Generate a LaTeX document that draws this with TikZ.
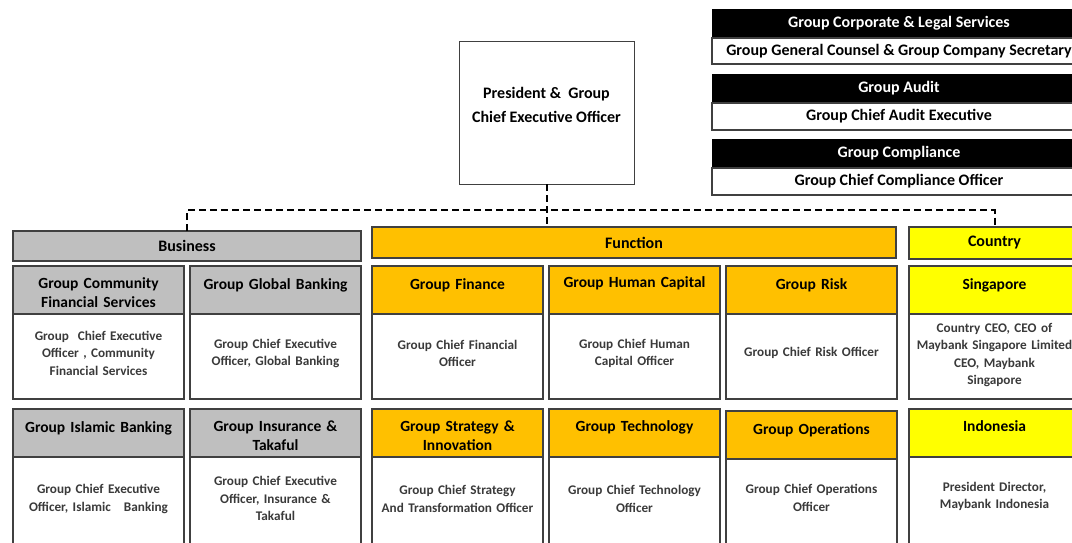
\documentclass[tikz,border=0pt]{standalone}
\usepackage{fontspec}
\setmainfont{Carlito}
\usepackage{xcolor}
\usepackage{tikz}
\usetikzlibrary{positioning}

\definecolor{bizgray}{HTML}{BFBFBF}
\definecolor{funorange}{HTML}{FFC000}
\definecolor{ctyyellow}{HTML}{FFFF00}
\definecolor{boxline}{HTML}{404040}
\definecolor{bodytext}{HTML}{3A3A3A}

\tikzset{
  unitbar/.style={draw=boxline, line width=1.3pt, anchor=north west, inner sep=0pt, outer sep=0pt,
    font=\bfseries\fontsize{16}{19}\selectfont},
  cardhead/.style={draw=boxline, line width=1.3pt, anchor=north west, minimum width=171pt,
    minimum height=48pt, text width=168pt, align=center, inner sep=0pt, outer sep=0pt,
    font=\bfseries\fontsize{15.5}{19}\selectfont},
  oneline/.style={text depth=12pt},
  twoline/.style={text height=16pt},
  cardbody/.style={draw=boxline, line width=1.3pt, fill=white, minimum width=171pt,
    text width=168pt, align=center, inner sep=0pt, outer sep=0pt, text=bodytext, text height=3pt,
    font=\bfseries\fontsize{13.2}{17.5}\selectfont},
  blackbar/.style={draw=black, fill=black, text=white, anchor=north west, minimum width=374pt,
    minimum height=29pt, inner sep=0pt, outer sep=0pt, font=\bfseries\fontsize{16}{19}\selectfont},
  whitebar/.style={draw=boxline, line width=1.3pt, fill=white, minimum width=374pt,
    inner sep=0pt, outer sep=0pt, font=\bfseries\fontsize{16}{19}\selectfont},
  reportline/.style={line width=2pt, dash pattern=on 7pt off 4pt}
}

\begin{document}
\begin{tikzpicture}[x=1pt, y=-1pt]
  \useasboundingbox (0,0) rectangle (1072,542);
  \clip (0,0) rectangle (1072,542);

  % Top right: independent functions
  \node[blackbar] (legal) at (712,9) {Group Corporate \& Legal Services};
  \node[whitebar, minimum height=26pt, below=0pt of legal] (legalhead) {Group General Counsel \& Group Company Secretary};
  \node[blackbar] (audit) at (712,74) {Group Audit};
  \node[whitebar, minimum height=27pt, below=0pt of audit] (audithead) {Group Chief Audit Executive};
  \node[blackbar] (compl) at (712,139) {Group Compliance};
  \node[whitebar, minimum height=27pt, below=0pt of compl] (complhead) {Group Chief Compliance Officer};

  % CEO box
  \node[draw=boxline, line width=1pt, anchor=north west, minimum width=175pt, minimum height=143pt,
    align=center, inner sep=0pt, outer sep=0pt, text depth=15pt,
    font=\bfseries\fontsize{16}{24}\selectfont] (ceo)
    at (459,41) {President \&\ \ Group\\Chief Executive Officer};

  % Pillar bars
  \node[unitbar, fill=bizgray, minimum width=348pt, minimum height=30pt] (bus) at (13,231) {Business};
  \node[unitbar, fill=funorange, minimum width=524pt, minimum height=31pt] (fun) at (372,227) {Function};
  \node[unitbar, fill=ctyyellow, minimum width=171pt, minimum height=32pt] (cty) at (909,227) {Country};

  % Dashed reporting lines
  \coordinate (bar) at (0,210);
  \draw[reportline] (ceo.south) -- (ceo.south |- fun.north);
  \draw[reportline] (bus.north) |- (bar -| cty.north) -- (cty.north);

  % Business, first row
  \node[cardhead, twoline, fill=bizgray] (cfs) at (13,266) {Group Community\\Financial Services};
  \node[cardbody, minimum height=85pt, below=0pt of cfs] (cfsbody) {Group\ \ Chief Executive\\Officer , Community\\Financial Services};
  \node[cardhead, oneline, fill=bizgray] (ggb) at (190,266) {Group Global Banking};
  \node[cardbody, minimum height=85pt, below=0pt of ggb] (ggbbody) {Group Chief Executive\\Officer, Global Banking};

  % Function, first row
  \node[cardhead, oneline, fill=funorange] (fin) at (372,266) {Group Finance};
  \node[cardbody, minimum height=85pt, below=0pt of fin] (finbody) {Group Chief Financial\\Officer};
  \node[cardhead, oneline, text depth=15pt, fill=funorange] (hc) at (549,266) {Group Human Capital};
  \node[cardbody, minimum height=85pt, below=0pt of hc] (hcbody) {Group Chief Human\\Capital Officer};
  \node[cardhead, oneline, fill=funorange] (risk) at (726,266) {Group Risk};
  \node[cardbody, minimum height=85pt, below=0pt of risk] (riskbody) {Group Chief Risk Officer};

  % Country, first row
  \node[cardhead, oneline, fill=ctyyellow] (sg) at (909,266) {Singapore};
  \node[cardbody, minimum height=85pt, text height=6pt, below=0pt of sg] (sgbody) {Country CEO, CEO of\\Maybank Singapore Limited\\CEO, Maybank\\Singapore};

  % Business, second row
  \node[cardhead, oneline, fill=bizgray] (gib) at (13,409) {Group Islamic Banking};
  \node[cardbody, minimum height=88pt, text height=5pt, below=0pt of gib] (gibbody) {Group Chief Executive\\Officer, Islamic\ \ \ Banking};
  \node[cardhead, twoline, fill=bizgray] (git) at (190,409) {Group Insurance \&\\Takaful};
  \node[cardbody, minimum height=88pt, text height=5pt, below=0pt of git] (gitbody) {Group Chief Executive\\Officer, Insurance \&\\Takaful};

  % Function, second row
  \node[cardhead, twoline, fill=funorange] (gsi) at (372,409) {Group Strategy \&\\Innovation};
  \node[cardbody, minimum height=88pt, text height=5pt, below=0pt of gsi] (gsibody) {Group Chief Strategy\\And Transformation Officer};
  \node[cardhead, oneline, text depth=14pt, fill=funorange] (tech) at (549,409) {Group Technology};
  \node[cardbody, minimum height=88pt, text height=5pt, below=0pt of tech] (techbody) {Group Chief Technology\\Officer};
  \node[cardhead, oneline, fill=funorange] (ops) at (726,411) {Group Operations};
  \node[cardbody, minimum height=86pt, text height=1pt, below=0pt of ops] (opsbody) {Group Chief Operations\\Officer};

  % Country, second row
  \node[cardhead, oneline, text depth=14pt, fill=ctyyellow] (idn) at (909,409) {Indonesia};
  \node[cardbody, minimum height=88pt, text height=-1pt, below=0pt of idn] (idnbody) {President Director,\\Maybank Indonesia};
\end{tikzpicture}
\end{document}
